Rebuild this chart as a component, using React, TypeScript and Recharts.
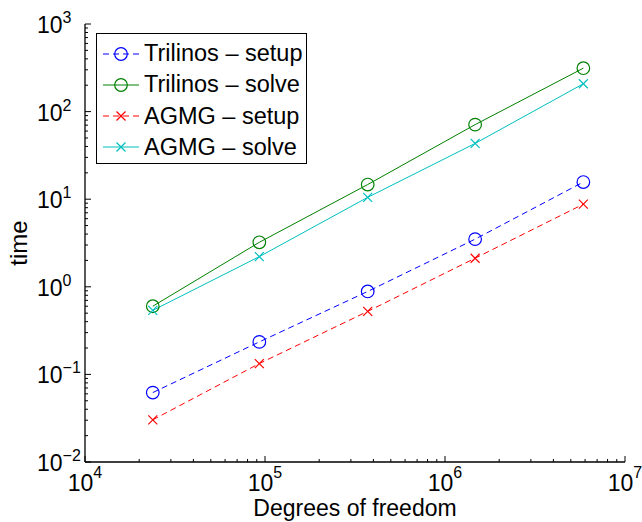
import React from 'react'
import { LineChart, Line, XAxis, YAxis, Legend, Label } from 'recharts'

// degrees of freedom (x) and timings (y)
const dofs = [23800, 93000, 372000, 1470000, 5870000]
const trilinosSetup = [0.062, 0.235, 0.885, 3.5, 15.7]
const trilinosSolve = [0.6, 3.22, 14.7, 71, 313]
const agmgSetup = [0.0303, 0.133, 0.524, 2.12, 8.77]
const agmgSolve = [0.538, 2.21, 10.5, 43.3, 208]

const xDecades = [1e4, 1e5, 1e6, 1e7]
const yDecades = [1e-2, 1e-1, 1e0, 1e1, 1e2, 1e3]
const minorSteps = [2, 3, 4, 5, 6, 7, 8, 9]

const FONT = '"Liberation Sans", Arial, Helvetica, sans-serif'

const data = dofs.map((dof, i) => ({
  dof,
  trilinosSetup: trilinosSetup[i],
  trilinosSolve: trilinosSolve[i],
  agmgSetup: agmgSetup[i],
  agmgSolve: agmgSolve[i],
}))

const series = [
  { key: 'trilinosSetup', name: 'Trilinos \u2013 setup', color: '#0000ff', dashed: true, marker: 'o' },
  { key: 'trilinosSolve', name: 'Trilinos \u2013 solve', color: '#008000', dashed: false, marker: 'o' },
  { key: 'agmgSetup', name: 'AGMG \u2013 setup', color: '#ff0000', dashed: true, marker: 'x' },
  { key: 'agmgSolve', name: 'AGMG \u2013 solve', color: '#00bfbf', dashed: false, marker: 'x' },
]

const withMinor = (decades: number[]) =>
  decades.flatMap((d, i) => (i < decades.length - 1 ? [d, ...minorSteps.map((m) => m * d)] : [d]))

const xTicks = withMinor(xDecades)
const yTicks = withMinor(yDecades)

const exponent = (v: number) => Math.round(Math.log10(v))
const isMajor = (v: number) => Math.abs(Math.log10(v) - exponent(v)) < 1e-9
const expText = (v: number) => {
  const e = exponent(v)
  return e < 0 ? '\u2212' + Math.abs(e) : String(e)
}

const MAJOR = 6
const MINOR = 3

function BottomTick(props: any) {
  const { x, y, payload } = props
  const v = payload.value
  const major = isMajor(v)
  return (
    <g>
      <line x1={x} y1={y} x2={x} y2={y - (major ? MAJOR : MINOR)} stroke="#000" strokeWidth={1} />
      {major && (
        <text x={x} y={y + 29} textAnchor="middle" fontSize={23} fontFamily={FONT} fill="#000">
          10
          <tspan dy={-13} fontSize={16}>{expText(v)}</tspan>
        </text>
      )}
    </g>
  )
}

function TopTick(props: any) {
  const { x, y, payload } = props
  const major = isMajor(payload.value)
  return <line x1={x} y1={y} x2={x} y2={y + (major ? MAJOR : MINOR)} stroke="#000" strokeWidth={1} />
}

function LeftTick(props: any) {
  const { x, y, payload } = props
  const v = payload.value
  const major = isMajor(v)
  return (
    <g>
      <line x1={x} y1={y} x2={x + (major ? MAJOR : MINOR)} y2={y} stroke="#000" strokeWidth={1} />
      {major && (
        <text x={x - 48} y={y + 9} textAnchor="start" fontSize={23} fontFamily={FONT} fill="#000">
          10
          <tspan dy={-10} fontSize={16}>{expText(v)}</tspan>
        </text>
      )}
    </g>
  )
}

function RightTick(props: any) {
  const { x, y, payload } = props
  const major = isMajor(payload.value)
  return <line x1={x} y1={y} x2={x - (major ? MAJOR : MINOR)} y2={y} stroke="#000" strokeWidth={1} />
}

function Marker({ cx, cy, color, marker }: any) {
  if (cx == null || cy == null) return null
  if (marker === 'o') {
    return <circle cx={cx} cy={cy} r={6.3} fill="none" stroke={color} strokeWidth={1.2} />
  }
  const s = 4.5
  return (
    <g stroke={color} strokeWidth={1.2}>
      <line x1={cx - s} y1={cy - s} x2={cx + s} y2={cy + s} />
      <line x1={cx - s} y1={cy + s} x2={cx + s} y2={cy - s} />
    </g>
  )
}

function LegendBox() {
  return (
    <div
      style={{
        border: '1px solid #000',
        background: '#fff',
        width: 209,
        height: 129,
        boxSizing: 'content-box',
        fontFamily: FONT,
        fontSize: 23.5,
        color: '#000',
      }}
    >
      {series.map((s, i) => (
        <div
          key={s.key}
          style={{ position: 'absolute', left: 7, top: 5 + i * 31.3, height: 31, display: 'flex', alignItems: 'center' }}
        >
          <svg width={36} height={20} style={{ display: 'block' }}>
            <line
              x1={0}
              y1={10}
              x2={36}
              y2={10}
              stroke={s.color}
              strokeWidth={1}
              strokeDasharray={s.dashed ? '6 4' : undefined}
            />
            <Marker cx={18} cy={10} color={s.color} marker={s.marker} />
          </svg>
          <span style={{ marginLeft: 5, whiteSpace: 'nowrap', lineHeight: '31px' }}>{s.name}</span>
        </div>
      ))}
    </div>
  )
}

export default function App() {
  return (
    <div style={{ position: 'absolute', left: 0, top: 0, background: '#fff' }}>
      <LineChart width={642} height={522} data={data} margin={{ top: 24, right: 17, bottom: 0, left: 0 }}>
        <XAxis
          xAxisId="b"
          dataKey="dof"
          type="number"
          scale="log"
          domain={[1e4, 1e7]}
          allowDataOverflow
          ticks={xTicks}
          interval={0}
          height={60}
          tickSize={0}
          tickMargin={0}
          tickLine={false}
          tick={<BottomTick />}
          axisLine={{ stroke: '#000', strokeWidth: 1.3 }}
        >
          <Label
            content={(p: any) => {
              const vb = p.viewBox
              return (
                <text
                  x={vb.x + vb.width / 2}
                  y={vb.y + 54}
                  textAnchor="middle"
                  fontSize={23}
                  fontFamily={FONT}
                  fill="#000"
                >
                  Degrees of freedom
                </text>
              )
            }}
          />
        </XAxis>
        <XAxis
          xAxisId="t"
          orientation="top"
          dataKey="dof"
          type="number"
          scale="log"
          domain={[1e4, 1e7]}
          allowDataOverflow
          ticks={xTicks}
          interval={0}
          height={0}
          tickSize={0}
          tickMargin={0}
          tickLine={false}
          tick={<TopTick />}
          axisLine={{ stroke: '#000', strokeWidth: 1.3 }}
        />
        <YAxis
          yAxisId="l"
          type="number"
          scale="log"
          domain={[1e-2, 1e3]}
          allowDataOverflow
          ticks={yTicks}
          interval={0}
          width={85}
          tickSize={0}
          tickMargin={0}
          tickLine={false}
          tick={<LeftTick />}
          axisLine={{ stroke: '#000', strokeWidth: 1.3 }}
        >
          <Label
            content={(p: any) => {
              const vb = p.viewBox
              const cy = vb.y + vb.height / 2
              return (
                <text
                  transform={`translate(27, ${cy}) rotate(-90)`}
                  textAnchor="middle"
                  fontSize={24}
                  fontFamily={FONT}
                  fill="#000"
                >
                  time
                </text>
              )
            }}
          />
        </YAxis>
        <YAxis
          yAxisId="r"
          orientation="right"
          type="number"
          scale="log"
          domain={[1e-2, 1e3]}
          allowDataOverflow
          ticks={yTicks}
          interval={0}
          width={0}
          tickSize={0}
          tickMargin={0}
          tickLine={false}
          tick={<RightTick />}
          axisLine={{ stroke: '#000', strokeWidth: 1.3 }}
        />
        {series.map((s) => (
          <Line
            key={s.key}
            xAxisId="b"
            yAxisId="l"
            type="linear"
            dataKey={s.key}
            name={s.name}
            stroke={s.color}
            strokeWidth={1}
            strokeDasharray={s.dashed ? '6 4' : undefined}
            isAnimationActive={false}
            dot={(p: any) => <Marker key={`${s.key}-${p.index}`} cx={p.cx} cy={p.cy} color={s.color} marker={s.marker} />}
            activeDot={false}
          />
        ))}
        <Legend
          layout="vertical"
          align="center"
          verticalAlign="middle"
          wrapperStyle={{ left: 96, top: 33, width: 'auto' }}
          content={() => <LegendBox />}
        />
      </LineChart>
    </div>
  )
}
